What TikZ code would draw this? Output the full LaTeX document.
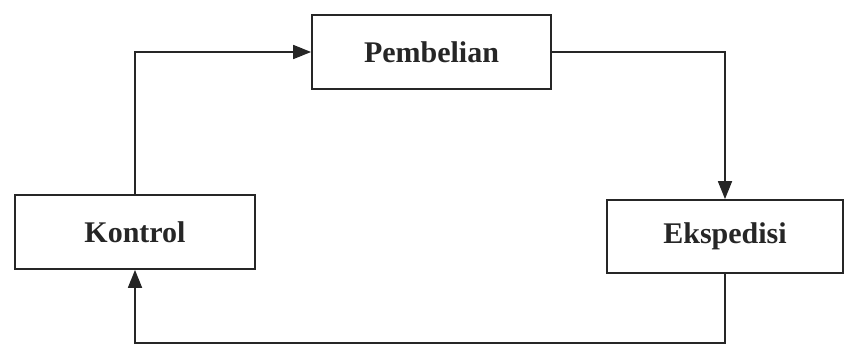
\documentclass[tikz,border=0pt]{standalone}
\usepackage{fontspec}
\setmainfont{Liberation Serif}
\usetikzlibrary{arrows.meta}
\begin{document}
\begin{tikzpicture}[x=1pt,y=-1pt,
  unit/.style={draw=black!85, line width=1.8pt, minimum height=74pt,
    inner sep=0pt, font=\fontsize{30}{34}\selectfont\bfseries, text=black!85},
  flow/.style={draw=black!85, line width=1.8pt,
    -{Triangle[length=18pt,width=14pt]}}]
  \useasboundingbox (0,0) rectangle (848,345);
  \node[unit, minimum width=239pt] (beli) at (431.5,52) {Pembelian};
  \node[unit, minimum width=240pt] (kontrol) at (135,232) {Kontrol};
  \node[unit, minimum width=236pt, minimum height=73pt] (eks) at (725,236.5) {Ekspedisi};
  \coordinate (bawah) at (725,343);
  \draw[flow] (kontrol.north) |- (beli.west);
  \draw[flow] (beli.east) -| (eks.north);
  \draw[flow] (eks.south) -- (bawah) -| (kontrol.south);
\end{tikzpicture}
\end{document}
